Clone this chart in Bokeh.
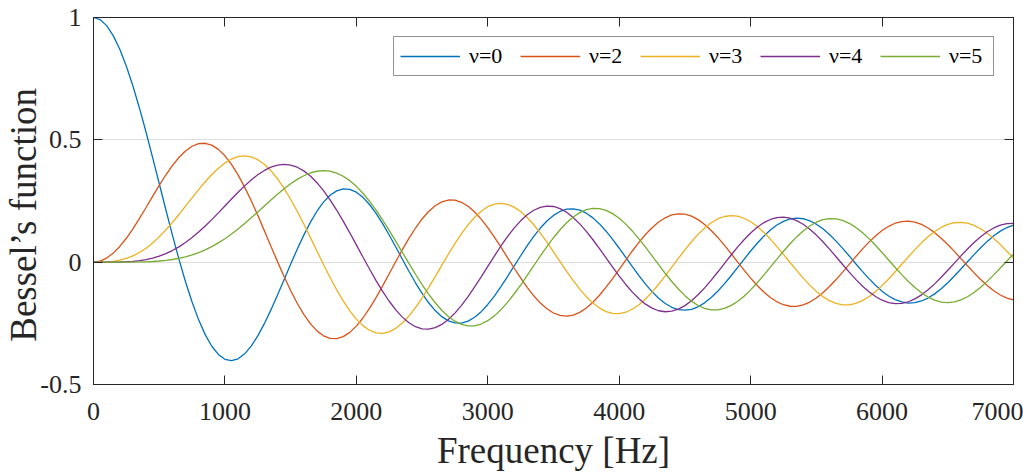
from bokeh.plotting import figure
from bokeh.models import Range1d, LinearAxis, FixedTicker, Legend, LegendItem, CustomJSTickFormatter
from bokeh.embed import file_html
from bokeh.resources import INLINE

# ---------------- data (every 50 Hz) ----------------
freq_hz = list(range(0, 7001, 50))

bessel_nu0 = [1.0, 0.9916, 0.9667, 0.9259, 0.8702, 0.8010, 0.7201, 0.6293, 0.5310, 0.4276,
              0.3215, 0.2153, 0.1114, 0.0123, -0.0799, -0.1631, -0.2358, -0.2962, -0.3436, -0.3772,
              -0.3970, -0.4026, -0.3949, -0.3746, -0.3430, -0.3013, -0.2514, -0.1951, -0.1345, -0.0716,
              -0.0084, 0.0529, 0.1106, 0.1628, 0.2082, 0.2453, 0.2733, 0.2915, 0.2997, 0.2976,
              0.2859, 0.2649, 0.2357, 0.1994, 0.1573, 0.1110, 0.0620, 0.0121, -0.0373, -0.0843,
              -0.1277, -0.1659, -0.1979, -0.2227, -0.2398, -0.2484, -0.2488, -0.2409, -0.2251, -0.2023,
              -0.1728, -0.1385, -0.0997, -0.0587, -0.0158, 0.0263, 0.0675, 0.1052, 0.1395, 0.1681,
              0.1912, 0.2072, 0.2164, 0.2181, 0.2126, 0.2001, 0.1810, 0.1564, 0.1266, 0.0933,
              0.0569, 0.0195, -0.0185, -0.0550, -0.0896, -0.1205, -0.1474, -0.1687, -0.1844, -0.1936,
              -0.1964, -0.1926, -0.1824, -0.1663, -0.1447, -0.1188, -0.0889, -0.0566, -0.0224, 0.0118,
              0.0456, 0.0772, 0.1063, 0.1312, 0.1518, 0.1669, 0.1765, 0.1800, 0.1775, 0.1691,
              0.1552, 0.1363, 0.1129, 0.0861, 0.0564, 0.0254, -0.0064, -0.0375, -0.0674, -0.0945,
              -0.1185, -0.1381, -0.1531, -0.1627, -0.1670, -0.1656, -0.1587, -0.1466, -0.1296, -0.1085,
              -0.0839, -0.0568, -0.0279, 0.0016, 0.0310, 0.0589, 0.0849, 0.1077, 0.1269, 0.1415,
              0.1515]

bessel_nu2 = [0.0, 0.0042, 0.0166, 0.0368, 0.0642, 0.0977, 0.1364, 0.1788, 0.2235, 0.2690,
              0.3137, 0.3562, 0.3947, 0.4279, 0.4546, 0.4737, 0.4845, 0.4860, 0.4782, 0.4609,
              0.4346, 0.3995, 0.3566, 0.3067, 0.2512, 0.1914, 0.1289, 0.0653, 0.0022, -0.0587,
              -0.1160, -0.1680, -0.2135, -0.2514, -0.2808, -0.3010, -0.3117, -0.3127, -0.3044, -0.2869,
              -0.2613, -0.2282, -0.1889, -0.1447, -0.0971, -0.0475, 0.0025, 0.0513, 0.0975, 0.1396,
              0.1766, 0.2072, 0.2307, 0.2463, 0.2540, 0.2533, 0.2447, 0.2285, 0.2050, 0.1758,
              0.1409, 0.1027, 0.0611, 0.0189, -0.0239, -0.0646, -0.1033, -0.1375, -0.1672, -0.1906,
              -0.2078, -0.2178, -0.2208, -0.2165, -0.2052, -0.1875, -0.1637, -0.1352, -0.1023, -0.0669,
              -0.0293, 0.0083, 0.0457, 0.0807, 0.1130, 0.1408, 0.1641, 0.1814, 0.1929, 0.1977,
              0.1961, 0.1880, 0.1738, 0.1542, 0.1296, 0.1011, 0.0694, 0.0360, 0.0015, -0.0324,
              -0.0652, -0.0952, -0.1221, -0.1444, -0.1621, -0.1740, -0.1802, -0.1803, -0.1745, -0.1630,
              -0.1462, -0.1248, -0.0994, -0.0711, -0.0405, -0.0090, 0.0227, 0.0532, 0.0819, 0.1073,
              0.1293, 0.1466, 0.1591, 0.1661, 0.1677, 0.1636, 0.1542, 0.1397, 0.1207, 0.0979,
              0.0720, 0.0440, 0.0146, -0.0148, -0.0438, -0.0709, -0.0957, -0.1168, -0.1342, -0.1468,
              -0.1546]

bessel_nu3 = [0.0, 0.0001, 0.0010, 0.0034, 0.0079, 0.0152, 0.0256, 0.0396, 0.0572, 0.0785,
              0.1033, 0.1313, 0.1620, 0.1947, 0.2287, 0.2630, 0.2967, 0.3288, 0.3583, 0.3842,
              0.4056, 0.4215, 0.4313, 0.4343, 0.4303, 0.4188, 0.3999, 0.3738, 0.3410, 0.3018,
              0.2573, 0.2083, 0.1559, 0.1013, 0.0458, -0.0092, -0.0625, -0.1126, -0.1584, -0.1987,
              -0.2327, -0.2593, -0.2782, -0.2887, -0.2909, -0.2847, -0.2705, -0.2487, -0.2202, -0.1858,
              -0.1467, -0.1040, -0.0590, -0.0131, 0.0323, 0.0759, 0.1164, 0.1524, 0.1837, 0.2083,
              0.2266, 0.2373, 0.2407, 0.2365, 0.2251, 0.2069, 0.1824, 0.1529, 0.1187, 0.0817,
              0.0421, 0.0023, -0.0375, -0.0751, -0.1103, -0.1410, -0.1673, -0.1876, -0.2020, -0.2096,
              -0.2105, -0.2046, -0.1923, -0.1740, -0.1503, -0.1223, -0.0904, -0.0563, -0.0204, 0.0153,
              0.0506, 0.0835, 0.1137, 0.1395, 0.1609, 0.1766, 0.1866, 0.1904, 0.1880, 0.1795,
              0.1653, 0.1460, 0.1220, 0.0944, 0.0638, 0.0317, -0.0014, -0.0338, -0.0652, -0.0939,
              -0.1195, -0.1407, -0.1574, -0.1686, -0.1744, -0.1743, -0.1686, -0.1574, -0.1411, -0.1204,
              -0.0959, -0.0686, -0.0391, -0.0087, 0.0219, 0.0513, 0.0790, 0.1037, 0.1251, 0.1419,
              0.1542, 0.1612, 0.1629, 0.1592, 0.1503, 0.1366, 0.1184, 0.0966, 0.0716, 0.0446,
              0.0161]

bessel_nu4 = [0.0, 0.0000, 0.0000, 0.0002, 0.0007, 0.0018, 0.0036, 0.0065, 0.0108, 0.0168,
              0.0247, 0.0349, 0.0475, 0.0626, 0.0803, 0.1005, 0.1230, 0.1476, 0.1739, 0.2014,
              0.2297, 0.2579, 0.2855, 0.3118, 0.3360, 0.3573, 0.3749, 0.3882, 0.3967, 0.3997,
              0.3969, 0.3880, 0.3731, 0.3519, 0.3249, 0.2924, 0.2549, 0.2131, 0.1678, 0.1200,
              0.0707, 0.0210, -0.0280, -0.0752, -0.1195, -0.1597, -0.1951, -0.2246, -0.2478, -0.2638,
              -0.2727, -0.2739, -0.2678, -0.2545, -0.2344, -0.2082, -0.1766, -0.1410, -0.1013, -0.0601,
              -0.0172, 0.0248, 0.0661, 0.1041, 0.1392, 0.1690, 0.1939, 0.2122, 0.2243, 0.2294,
              0.2276, 0.2190, 0.2038, 0.1828, 0.1564, 0.1259, 0.0916, 0.0554, 0.0175, -0.0200,
              -0.0569, -0.0911, -0.1225, -0.1494, -0.1716, -0.1880, -0.1985, -0.2027, -0.2005, -0.1920,
              -0.1776, -0.1580, -0.1334, -0.1051, -0.0735, -0.0403, -0.0058, 0.0282, 0.0613, 0.0917,
              0.1193, 0.1425, 0.1613, 0.1745, 0.1822, 0.1839, 0.1798, 0.1700, 0.1548, 0.1349,
              0.1107, 0.0834, 0.0534, 0.0223, -0.0096, -0.0406, -0.0703, -0.0972, -0.1210, -0.1405,
              -0.1555, -0.1652, -0.1696, -0.1684, -0.1619, -0.1501, -0.1336, -0.1130, -0.0887, -0.0619,
              -0.0332, -0.0038, 0.0258, 0.0541, 0.0806, 0.1041, 0.1242, 0.1399, 0.1512, 0.1573,
              0.1584]

bessel_nu5 = [0.0, 0.0000, 0.0000, 0.0000, 0.0001, 0.0002, 0.0004, 0.0008, 0.0016, 0.0028,
              0.0047, 0.0073, 0.0109, 0.0157, 0.0218, 0.0296, 0.0390, 0.0503, 0.0635, 0.0787,
              0.0958, 0.1149, 0.1355, 0.1578, 0.1812, 0.2053, 0.2298, 0.2541, 0.2778, 0.3001,
              0.3205, 0.3384, 0.3533, 0.3645, 0.3716, 0.3741, 0.3717, 0.3641, 0.3513, 0.3332,
              0.3099, 0.2817, 0.2491, 0.2124, 0.1724, 0.1297, 0.0853, 0.0400, -0.0052, -0.0493,
              -0.0915, -0.1306, -0.1659, -0.1966, -0.2219, -0.2412, -0.2542, -0.2604, -0.2600, -0.2528,
              -0.2391, -0.2196, -0.1942, -0.1644, -0.1301, -0.0934, -0.0542, -0.0146, 0.0254, 0.0635,
              0.0999, 0.1324, 0.1611, 0.1845, 0.2026, 0.2144, 0.2200, 0.2191, 0.2118, 0.1985,
              0.1794, 0.1555, 0.1271, 0.0955, 0.0611, 0.0257, -0.0104, -0.0454, -0.0791, -0.1096,
              -0.1368, -0.1593, -0.1770, -0.1889, -0.1950, -0.1951, -0.1892, -0.1776, -0.1607, -0.1391,
              -0.1132, -0.0844, -0.0529, -0.0204, 0.0127, 0.0447, 0.0754, 0.1032, 0.1278, 0.1479,
              0.1634, 0.1735, 0.1782, 0.1772, 0.1707, 0.1589, 0.1421, 0.1211, 0.0963, 0.0689,
              0.0393, 0.0090, -0.0216, -0.0510, -0.0789, -0.1038, -0.1254, -0.1426, -0.1553, -0.1629,
              -0.1653, -0.1624, -0.1543, -0.1414, -0.1240, -0.1029, -0.0785, -0.0519, -0.0237, 0.0049,
              0.0333]

series_labels = ["\u03bd=0", "\u03bd=2", "\u03bd=3", "\u03bd=4", "\u03bd=5"]
series_colors = ["#0072BD", "#D95319", "#EDB120", "#7E2F8E", "#77AC30"]

x_ticks = [0, 1000, 2000, 3000, 4000, 5000, 6000, 7000]
x_tick_labels = ["0", "1000", "2000", "3000", "4000", "5000", "6000", "7000"]
y_ticks = [-0.5, 0, 0.5, 1]
y_tick_labels = ["-0.5", "0", "0.5", "1"]
x_title = "Frequency [Hz]"
y_title = "Bessel\u2019s function"

# ---------------- styling ----------------
INK = "#262626"
FONT = "Liberation Serif"

p = figure(width=1023, height=474, output_backend="svg", toolbar_location=None,
           x_range=Range1d(0, 7000), y_range=Range1d(-0.5, 1.0),
           min_border_left=0, min_border_right=10, min_border_top=17, min_border_bottom=90)
p.background_fill_color = "white"
p.border_fill_color = "white"
p.outline_line_color = INK
p.outline_line_width = 1

xaxis_b = p.below[0]
yaxis_l = p.left[0]

all_series = [bessel_nu0, bessel_nu2, bessel_nu3, bessel_nu4, bessel_nu5]
items = []
for ys, col, lab in zip(all_series, series_colors, series_labels):
    r = p.line(freq_hz, ys, line_color=col, line_width=1.3)
    items.append(LegendItem(label=lab, renderers=[r]))

# grid
p.xgrid.grid_line_color = None
p.ygrid.grid_line_color = "#dedede"
p.ygrid.grid_line_width = 1

xaxis_b.ticker = FixedTicker(ticks=x_ticks)
xaxis_b.major_label_overrides = {t: l for t, l in zip(x_ticks, x_tick_labels)}
yaxis_l.ticker = FixedTicker(ticks=y_ticks)
yaxis_l.major_label_overrides = {t: l for t, l in zip(y_ticks, y_tick_labels)}

top_axis = LinearAxis(ticker=FixedTicker(ticks=x_ticks),
                      formatter=CustomJSTickFormatter(code="return ''"))
right_axis = LinearAxis(ticker=FixedTicker(ticks=y_ticks),
                        formatter=CustomJSTickFormatter(code="return ''"))
p.add_layout(top_axis, "above")
p.add_layout(right_axis, "right")

for ax in [xaxis_b, yaxis_l, top_axis, right_axis]:
    ax.axis_line_color = INK
    ax.axis_line_width = 1
    ax.major_tick_line_color = INK
    ax.major_tick_line_width = 1
    ax.major_tick_in = 9
    ax.major_tick_out = 0
    ax.minor_tick_line_color = None
    ax.major_label_text_font = FONT
    ax.major_label_text_font_size = "26px"
    ax.major_label_text_color = INK

for ax in [top_axis, right_axis]:
    ax.major_label_text_font_size = "0px"
    ax.major_label_standoff = 0

xaxis_b.major_label_standoff = 18
yaxis_l.major_label_standoff = 12

xaxis_b.axis_label = x_title
# trailing no-break spaces move the centred title slightly down, as in the reference
yaxis_l.axis_label = y_title + "\u00a0" * 3
for ax in [xaxis_b, yaxis_l]:
    ax.axis_label_text_font = FONT
    ax.axis_label_text_font_size = "37px"
    ax.axis_label_text_font_style = "normal"
    ax.axis_label_text_color = INK
xaxis_b.axis_label_standoff = 7
yaxis_l.axis_label_standoff = -7

legend = Legend(items=items, orientation="horizontal", location="top_right",
                label_text_font=FONT, label_text_font_size="22px", label_text_color="#000000",
                glyph_width=60, glyph_height=20, label_standoff=9, label_width=38,
                spacing=13, padding=6, margin=19,
                border_line_color=INK, border_line_width=1,
                background_fill_color="white", background_fill_alpha=1.0)
p.add_layout(legend)

open("out.html", "w").write(file_html(p, INLINE))
